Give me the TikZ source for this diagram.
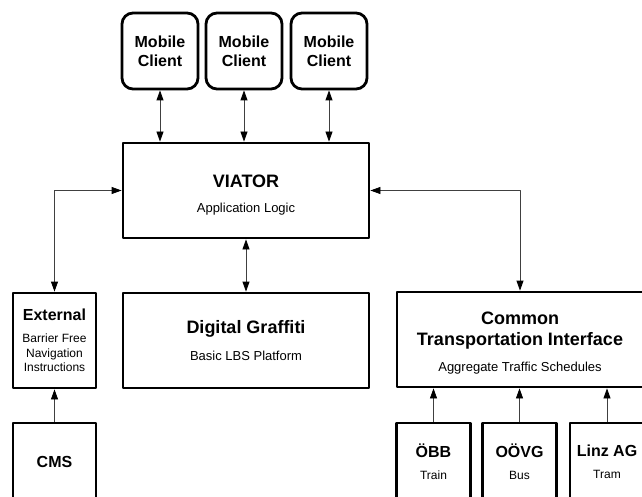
\documentclass[tikz,border=0pt]{standalone}
\usepackage{fontspec}
\setmainfont{Liberation Sans}
\usetikzlibrary{arrows.meta}

\newcommand{\bigtitle}{\bfseries\fontsize{18}{21}\selectfont}
\newcommand{\smalltitle}{\bfseries\fontsize{16}{19}\selectfont}
\newcommand{\subline}{\mdseries\fontsize{13}{16}\selectfont}
\newcommand{\smallsub}{\mdseries\fontsize{12}{14}\selectfont}

\begin{document}
\begin{tikzpicture}[x=1pt, y=-1pt, >={Triangle[length=10pt, width=7pt, color=black]},
                    line cap=round, line join=round,
                    box/.style={draw, line width=2.8pt, fill=white, align=center,
                                inner sep=0pt},
                    client/.style={box, rounded corners=11pt, minimum width=76,
                                   minimum height=76, font=\smalltitle},
                    wide/.style={box, minimum width=246, minimum height=95},
                    narrow/.style={box, minimum width=83, minimum height=95},
                    feed/.style={box, minimum width=74, minimum height=78},
                    link/.style={line width=0.8pt, black!75}]
  \useasboundingbox (0, 0) rectangle (642, 497);

  % Mobile clients on top
  \node[client] (mc1) at (160, 51) {Mobile\\Client};
  \node[client] (mc2) at (244, 51) {Mobile\\Client};
  \node[client] (mc3) at (329, 51) {Mobile\\Client};

  % Core boxes
  \node[wide] (viator) at (246, 190.5)
    {\rule{0pt}{21pt}\bigtitle VIATOR\\[13pt]\subline Application Logic};
  \node[wide] (graffiti) at (246, 340.5)
    {\bigtitle Digital Graffiti\\[12pt]\subline Basic LBS Platform};
  \node[narrow] (external) at (54.5, 340.5)
    {\smalltitle External\\[10pt]\smallsub Barrier Free\\[2.5pt]\smallsub Navigation\\[2pt]\smallsub Instructions};
  \node[wide] (cti) at (520, 339.5)
    {\rule{0pt}{20pt}\bigtitle Common\\[7pt]\bigtitle Transportation Interface\\[12pt]\subline Aggregate Traffic Schedules};

  % Data sources at the bottom
  \node[narrow, minimum height=78] (cms) at (54.5, 462) {\smalltitle CMS};
  \node[feed] (obb) at (433.5, 462) {\smalltitle ÖBB\\[10pt]\smallsub Train};
  \node[feed] (oovg) at (519.5, 462) {\smalltitle OÖVG\\[10pt]\smallsub Bus};
  \node[feed] (linz) at (607, 462) {\smalltitle Linz AG\\[10pt]\smallsub Tram};

  % Clients <-> application logic
  \foreach \c in {mc1, mc2, mc3}
    \draw[link, <->] (\c.south) -- (\c.south |- viator.north);

  % Application logic <-> services
  \draw[link, <->] (viator.south) -- (graffiti.north);
  \draw[link, <->] (external.north) |- (viator.west);
  \draw[link, <->] (viator.east) -| (cti.north);

  % Sources feeding in
  \draw[link, ->] (cms.north) -- (external.south);
  \foreach \s in {obb, oovg, linz}
    \draw[link, ->] (\s.north) -- (\s.north |- cti.south);
\end{tikzpicture}
\end{document}
